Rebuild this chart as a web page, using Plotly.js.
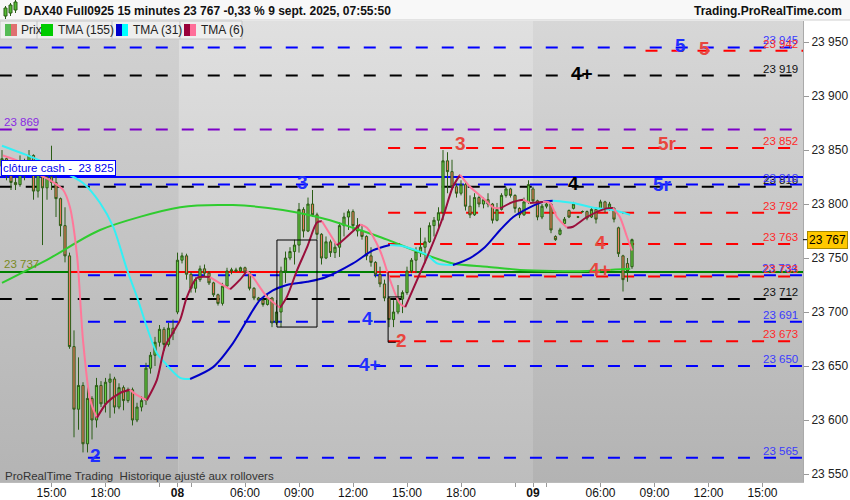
<!DOCTYPE html>
<html><head><meta charset="utf-8">
<script src="https://cdn.plot.ly/plotly-3.0.1.min.js"></script>
<style>html,body{margin:0;padding:0;background:#fff}#chart{width:850px;height:500px}</style>
</head><body><div id="chart"></div>
<script>
// ---------- DATA ----------
const tickPos = [12,24,36,40,43,55,67,79,91,103,115,119,122,134,146,158,170];
const tickLabels = ['15:00','18:00','','<b>08</b>','','06:00','09:00','12:00','15:00','18:00','','<b>09</b>','','06:00','09:00','12:00','15:00'];

const openP = [23835,23842,23830,23820,23818,23840,23828,23845,23812,23835,23815,23825,23820,23805,23780,23752,23668,23610,23632,23578,
23620,23600,23632,23615,23635,23638,23612,23630,23618,23628,23600,23612,23618,23648,23660,23672,23684,23670,23685,23700,
23748,23752,23735,23722,23730,23740,23736,23727,23716,23708,23724,23738,23739,23738,23741,23737,23722,23713,23711,23707,
23713,23690,23700,23738,23750,23756,23762,23795,23775,23800,23790,23772,23750,23765,23755,23760,23780,23788,23793,23780,
23775,23770,23752,23746,23735,23726,23713,23693,23700,23712,23718,23738,23748,23756,23760,23765,23780,23785,23792,23840,
23830,23816,23810,23818,23798,23790,23806,23800,23804,23800,23785,23795,23808,23814,23808,23796,23790,23802,23814,23803,
23788,23798,23800,23770,23772,23782,23794,23796,23788,23793,23793,23788,23795,23796,23802,23795,23796,23778,23752,23745,23742];
const highP = [23850,23843,23836,23825,23845,23842,23850,23846,23841,23838,23831,23854,23829,23806,23797,23755,23683,23658,23635,23637,
23622,23639,23636,23639,23643,23640,23634,23632,23630,23630,23616,23622,23653,23663,23677,23688,23686,23690,23693,23755,
23755,23754,23737,23732,23743,23744,23738,23728,23717,23727,23741,23741,23741,23742,23742,23738,23723,23714,23712,23716,
23714,23711,23742,23756,23760,23767,23801,23797,23806,23813,23792,23773,23770,23767,23764,23783,23792,23795,23795,23787,
23781,23771,23760,23747,23742,23730,23714,23711,23725,23720,23742,23750,23760,23778,23769,23783,23788,23797,23850,23848,
23841,23819,23822,23820,23808,23810,23808,23806,23810,23801,23801,23810,23816,23815,23809,23797,23806,23822,23816,23804,
23800,23802,23801,23771,23778,23788,23795,23802,23789,23794,23794,23797,23797,23804,23803,23802,23797,23779,23753,23750,23768];
const lowP = [23825,23822,23813,23813,23816,23822,23826,23804,23806,23762,23804,23813,23788,23770,23746,23666,23584,23591,23570,23570,
23582,23593,23612,23607,23602,23606,23610,23609,23616,23595,23598,23608,23614,23643,23650,23668,23664,23668,23674,23698,
23745,23730,23718,23718,23728,23733,23725,23714,23706,23706,23723,23735,23737,23737,23736,23720,23711,23710,23705,23706,
23686,23688,23686,23727,23748,23744,23755,23769,23774,23788,23767,23744,23749,23751,23750,23751,23770,23776,23776,23770,
23767,23748,23742,23732,23723,23710,23686,23686,23698,23699,23716,23736,23736,23751,23745,23764,23770,23776,23785,23810,
23813,23806,23808,23794,23787,23789,23797,23796,23797,23782,23784,23794,23806,23806,23792,23787,23789,23800,23801,23785,
23786,23796,23773,23766,23771,23781,23787,23795,23787,23792,23785,23787,23782,23795,23792,23794,23783,23751,23719,23728,23740];
const closeP = [23842,23830,23820,23818,23840,23828,23845,23812,23835,23815,23825,23820,23805,23780,23752,23668,23610,23632,23578,23620,
23600,23632,23615,23635,23638,23612,23630,23618,23628,23600,23612,23618,23648,23660,23672,23684,23670,23685,23680,23748,
23752,23735,23722,23730,23740,23736,23727,23716,23708,23724,23738,23739,23738,23741,23737,23722,23713,23711,23707,23713,
23690,23700,23738,23750,23756,23762,23795,23775,23800,23790,23772,23750,23765,23755,23760,23780,23788,23793,23780,23775,
23770,23752,23746,23735,23726,23713,23693,23700,23712,23718,23738,23748,23756,23760,23765,23780,23785,23792,23840,23830,
23816,23810,23818,23798,23790,23806,23800,23804,23800,23785,23795,23808,23814,23808,23796,23790,23802,23818,23803,23788,
23798,23800,23776,23767,23776,23786,23788,23800,23788,23793,23787,23795,23786,23802,23795,23800,23786,23754,23730,23738,23767];

const tma155X = [1,11.7,22.8,40.6,52.3,63.4,73.9,79,86.6,93.9,101.2,108.8,116.1,123.4,131,140.6];
const tma155Y = [23727,23750,23776,23797,23799,23794.5,23785,23778,23767,23755,23745,23742,23739,23738,23738,23740];

const tma31X = [1,7.9,13.9,19,22.8,25.7,28.8,31,33.2,35.4,37.2,40.6,42.8,47.9,52.3,56.8,58.3,61.2,64.3,68.8,72.8,79,83.4,87.2,90.1,95.4,97.7,101.2,105,108.3,111.7,114.6,118.3,121.2,123.4,127.9,133.2,136.8,140.6];
const tma31Y = [23854,23843,23831.5,23819.5,23801,23779,23739,23714,23686,23662,23653,23639,23638,23649,23671,23702,23711,23720,23725,23728,23732,23745,23757,23762,23761,23753,23745,23743.5,23750,23760,23776,23788,23797,23802,23803,23801,23796,23794.5,23790];

const tma6X = [1.2,5,7.9,11.7,14.6,16.1,17.7,19,20.6,22.1,24.3,27.2,29.4,31,33.2,35.4,37.2,39,40.6,42.1,44.3,47.2,50.1,51.7,53.9,55.4,56.8,59.9,62.8,64.3,66.6,68.8,71,72.1,75.4,76.1,80.6,82.1,85,87.2,89.4,90.6,93.9,96.1,99,101.2,102.8,105,108.3,110.1,111.7,114.6,116.8,118.3,121.2,122.8,124.3,126.6,127.9,131,135.4,136.8,138.3,139.9,141];
const tma6Y = [23845,23839,23830,23822,23813,23797,23751,23674,23618.5,23602,23616,23625,23628,23623,23618.5,23637,23668,23681,23693,23714,23731.5,23732.4,23725,23721,23730,23738,23732,23714,23704,23714,23739,23760,23783,23784,23762,23764,23781,23778,23757,23730,23708,23704.6,23736,23757,23788,23816,23827,23816,23804,23797,23796,23802,23804,23801,23802,23801,23788,23778,23779,23788,23796,23796.3,23788,23769.5,23757];

// horizontal levels: value, start bar
const levelValues = [23945,23942,23919,23869,23852,23818,23816,23792,23763,23734,23733,23712,23691,23673,23650,23565];
const levelStart  = [0.5,144,0.5,0.5,86.8,20.1,0.5,86.8,86.8,20.1,86.8,0.5,20.1,86.8,20.1,20.1];
const levelKind   = ['b','r','k','p','r','b','k','r','r','b','r','k','b','r','b','b'];
const rightLabelValues = [23945,23942,23919,23852,23816,23818,23792,23763,23734,23733,23712,23691,23673,23650,23565];
const rightLabelKind   = ['b','r','k','r','k','b','r','r','b','r','k','b','r','b','b'];
const cashClose = 23825;
const greenLevel = 23737;
const redSegStart = [15.7,83.9];
const redSegEnd = [63.2,93.2];
const lastPrice = 23767;

const markText = ['5','5','4+','5r','3','3','4','5r','4','4+','4','2','4+','2'];
const markX = [151.7,157.2,129.9,148.8,102.8,67.7,127.9,147.7,133.9,133.9,82.3,89.7,82.8,21.7];
const markY = [23947,23944,23921,23856,23856,23820,23819,23818,23764,23739,23694,23674,23651,23567];
const markKind = ['b','r','k','r','r','b','k','b','r','r','b','r','b','b'];

// ---------- STYLE ----------
const FONT = '"Liberation Sans", Arial, sans-serif';
const lineCol = {b:'#0000ff', r:'#ff0000', k:'#000000', p:'#7d00c8'};
const labCol = {b:'#3a3aff', r:'#ff2a2a', k:'#111111', p:'#8a2be2'};
const markCol = {b:'#1f2fff', r:'#e8463e', k:'#000000'};
const X0 = 0.556, X1 = 179.0, Y0 = 23542.6, Y1 = 23969.5;
const PW = 803, PT = 21, PB = 482;
const px2 = px => px / PW;
const py2 = py => (PB - py) / (PB - PT);

const idx = closeP.map((_, k) => k + 1);
const traces = [];

traces.push({
  type:'candlestick', x: idx, open: openP, high: highP, low: lowP, close: closeP,
  increasing:{line:{color:'#2b5d16', width:1}, fillcolor:'#66cc44'},
  decreasing:{line:{color:'#2b5d16', width:1}, fillcolor:'#e8795c'},
  whiskerwidth:0, hoverinfo:'skip', showlegend:false
});

function colored(xs, ys, upC, downC) {
  const sgn = k => Math.sign(ys[k] - ys[k-1]);
  let start = 0, dir = sgn(1) || 1;
  const segs = [];
  for (let k = 2; k < xs.length; k++) {
    let d = sgn(k) || dir;
    if (d !== dir) { segs.push([start, k-1, dir]); start = k-1; dir = d; }
  }
  segs.push([start, xs.length-1, dir]);
  segs.forEach(([a,b,d]) => traces.push({
    type:'scatter', mode:'lines', x: xs.slice(a,b+1), y: ys.slice(a,b+1),
    line:{color: d > 0 ? upC : downC, width:2, shape:'spline', smoothing:0.8},
    hoverinfo:'skip', showlegend:false
  }));
}
traces.push({type:'scatter', mode:'lines', x: tma155X, y: tma155Y, line:{color:'#2fcc2f', width:2, shape:'spline', smoothing:0.8}, hoverinfo:'skip', showlegend:false});
colored(tma31X, tma31Y, '#0000c8', '#33f0f5');
colored(tma6X, tma6Y, '#9a0f3c', '#ff7799');

// backgrounds
function grad(top, bottom) {
  const svg = `<svg xmlns="http://www.w3.org/2000/svg" width="10" height="100" preserveAspectRatio="none"><defs><linearGradient id="g" x1="0" y1="0" x2="0" y2="1"><stop offset="0" stop-color="${top}"/><stop offset="1" stop-color="${bottom}"/></linearGradient></defs><rect width="10" height="100" fill="url(#g)"/></svg>`;
  return 'data:image/svg+xml;charset=utf-8,' + encodeURIComponent(svg);
}
const dayBounds = [[X0, 40.2, '#d2d2d2', '#b4b4b4'], [40.2, 119, '#e0e0e0', '#bdbdbd'], [119, X1, '#d7d7d7', '#b3b3b3']];
const images = dayBounds.map(([a,b,t,bt]) => ({
  source: grad(t, bt), xref:'x', yref:'paper', x:a, y:1, sizex:b-a, sizey:1,
  sizing:'stretch', xanchor:'left', yanchor:'top', layer:'below'
}));

const shapes = [];
const dash = '12px,14px';
levelValues.forEach((v,k) => shapes.push({type:'line', layer:'below', xref:'x', yref:'y', x0: levelStart[k], x1: X1, y0:v, y1:v,
  line:{color: lineCol[levelKind[k]], width:2, dash: dash}}));
shapes.push({type:'line', layer:'below', xref:'x', yref:'y', x0:X0, x1:X1, y0:cashClose, y1:cashClose, line:{color:'#0000ff', width:2}});
shapes.push({type:'line', layer:'below', xref:'x', yref:'y', x0:X0, x1:X1, y0:greenLevel, y1:greenLevel, line:{color:'#008000', width:2}});
redSegStart.forEach((s,k) => shapes.push({type:'line', layer:'below', xref:'x', yref:'y', x0:s, x1:redSegEnd[k], y0:greenLevel, y1:greenLevel, line:{color:'#ff0000', width:2}}));
// drawings
shapes.push({type:'rect', xref:'x', yref:'y', x0:62.1, x1:71, y0:23766.7, y1:23686.1, line:{color:'#000', width:1}});
shapes.push({type:'line', xref:'x', yref:'y', x0:86.8, x1:86.8, y0:greenLevel, y1:23672, line:{color:'#000', width:1}});
shapes.push({type:'line', xref:'x', yref:'y', x0:86.8, x1:90, y0:23714, y1:23714, line:{color:'#000', width:1}});
shapes.push({type:'line', xref:'x', yref:'y', x0:86.8, x1:88.5, y0:23672, y1:23672, line:{color:'#000', width:1}});

// chrome: title bar, legend strip
shapes.push({type:'rect', xref:'paper', yref:'paper', x0:px2(0), x1:px2(850), y0:py2(0), y1:py2(20), fillcolor:'#f8f8f8', line:{width:0}});
shapes.push({type:'line', xref:'paper', yref:'paper', x0:px2(0), x1:px2(850), y0:py2(20), y1:py2(20), line:{color:'#cfcfcf', width:1}});
shapes.push({type:'rect', xref:'paper', yref:'paper', x0:px2(0), x1:px2(242), y0:py2(21), y1:py2(39), fillcolor:'#eeeeee', line:{color:'#c6c6c6', width:1}});
[37,112,180].forEach(p => shapes.push({type:'line', xref:'paper', yref:'paper', x0:px2(p), x1:px2(p), y0:py2(21), y1:py2(39), line:{color:'#c6c6c6', width:1}}));
const icons = [[5,11,'#55bb55'],[11,17,'#e07070'],[41,53,'#00cc00'],[116,122,'#0000cc'],[122,128,'#00ffff'],[184,190,'#99003a'],[190,196,'#ff6f9a']];
icons.forEach(([a,b,c]) => shapes.push({type:'rect', xref:'paper', yref:'paper', x0:px2(a), x1:px2(b), y0:py2(24), y1:py2(36), fillcolor:c, line:{width:0}}));
// title icon
[[4,7,8,16],[9,12,5,13],[14,17,2,10]].forEach(([a,b,t,bt]) => {
  shapes.push({type:'line', xref:'paper', yref:'paper', x0:px2((a+b)/2), x1:px2((a+b)/2), y0:py2(t-2), y1:py2(bt+3), line:{color:'#2b5d16', width:1}});
  shapes.push({type:'rect', xref:'paper', yref:'paper', x0:px2(a), x1:px2(b), y0:py2(t), y1:py2(bt), fillcolor:'#55bb33', line:{color:'#2b5d16', width:1}});
});
// last price tick
shapes.push({type:'line', xref:'paper', yref:'y', x0:1, x1:px2(808), y0:lastPrice, y1:lastPrice, line:{color:'#000', width:1}});

const ann = [];
const A = (o) => ann.push(Object.assign({showarrow:false, font:{family:FONT, size:12, color:'#111'}}, o));
A({xref:'paper', yref:'paper', x:px2(22), y:py2(11), xanchor:'left', yanchor:'middle',
   text:'<b>DAX40 Full0925 15 minutes 23 767 -0,33 % 9 sept. 2025, 07:55:50</b>'});
A({xref:'paper', yref:'paper', x:px2(844), y:py2(11), xanchor:'right', yanchor:'middle', text:'<b>Trading.ProRealTime.com</b>'});
[['Prix',19],['TMA (155)',56],['TMA (31)',131],['TMA (6)',199]].forEach(([t,p]) =>
  A({xref:'paper', yref:'paper', x:px2(p), y:py2(30), xanchor:'left', yanchor:'middle', text:t, font:{family:FONT, size:12, color:'#222'}}));
A({xref:'paper', yref:'paper', x:px2(3), y:py2(476), xanchor:'left', yanchor:'middle',
   text:'ProRealTime Trading\u00a0 Historique ajusté aux rollovers', font:{family:FONT, size:11.5, color:'#333'}});
// left labels
A({xref:'paper', yref:'y', x:px2(2), y:23869, xanchor:'left', yanchor:'bottom', text:'23 869', font:{family:FONT, size:11.5, color:'#8a2be2'}});
A({xref:'paper', yref:'y', x:px2(2), y:greenLevel, xanchor:'left', yanchor:'bottom', text:'23 737', font:{family:FONT, size:11.5, color:'#7a8a22'}});
A({xref:'paper', yref:'y', x:px2(1), y:cashClose, xanchor:'left', yanchor:'bottom', yshift:1,
   text:'clôture cash -\u00a0 23 825', bgcolor:'#ffffff', bordercolor:'#0000ff', borderwidth:1, borderpad:1,
   font:{family:FONT, size:11.5, color:'#0000ee'}});
// right labels
rightLabelValues.forEach((v,k) => A({xref:'paper', yref:'y', x:px2(800), y:v, xanchor:'right', yanchor:'bottom', yshift:-1,
   text: v.toString().replace(/^(\d\d)/, '$1 '), font:{family:FONT, size:11.5, color: labCol[rightLabelKind[k]]}}));
// wave marks
markText.forEach((t,k) => A({xref:'x', yref:'y', x:markX[k], y:markY[k], xanchor:'center', yanchor:'middle',
   text:'<b>'+t+'</b>', font:{family:FONT, size:19, color: markCol[markKind[k]]}}));
// last price box
A({xref:'paper', yref:'y', x:px2(807), y:lastPrice, xanchor:'left', yanchor:'middle', text:'23 767',
   bgcolor:'#ffc800', bordercolor:'#a88a00', borderwidth:1, borderpad:1, font:{family:FONT, size:12, color:'#000'}});

const layout = {
  width:850, height:500, margin:{l:0, r:47, t:21, b:18},
  paper_bgcolor:'#ffffff', plot_bgcolor:'#c8c8c8', separators:', ',
  showlegend:false, hovermode:false, dragmode:false,
  font:{family:FONT, size:12, color:'#111'},
  xaxis:{range:[X0, X1], type:'linear', tickmode:'array', tickvals:tickPos, ticktext:tickLabels,
    ticks:'outside', ticklen:4, tickcolor:'#999', ticklabelstandoff:-4, showgrid:false, zeroline:false, showline:true, linecolor:'#bbbbbb',
    rangeslider:{visible:false}, tickfont:{family:FONT, size:12, color:'#111'}, fixedrange:true},
  yaxis:{range:[Y0, Y1], side:'right', tickmode:'array', tickvals:[23550,23600,23650,23700,23750,23800,23850,23900,23950],
    tickformat:',d', ticks:'outside', ticklen:5, tickcolor:'#999', showgrid:false, zeroline:false, showline:true, linecolor:'#aaaaaa',
    tickfont:{family:FONT, size:12, color:'#222'}, fixedrange:true},
  shapes: shapes, annotations: ann, images: images
};
Plotly.newPlot('chart', traces, layout, {staticPlot:true, displayModeBar:false});
</script></body></html>
